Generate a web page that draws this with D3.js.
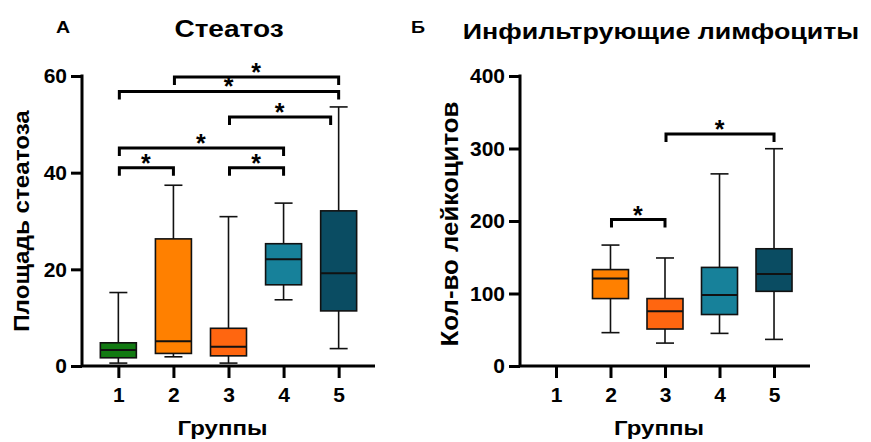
<!DOCTYPE html>
<html>
<head>
<meta charset="utf-8">
<script src="https://cdn.jsdelivr.net/npm/d3@7"></script>
<style>
  body { margin: 0; background: #fff; }
  text { font-family: "Liberation Sans", Arial, sans-serif; font-weight: bold; fill: #000; }
</style>
</head>
<body>
<div id="vis"></div>
<script>
// группы и цвета
var groups = ["1", "2", "3", "4", "5"]
var groupColors = ["#127a12", "#ff8000", "#ff6610", "#17819a", "#0a4c62"]

// А - стеатоз (min, Q1, median, Q3, max)
var steatMin = [0.6, 1.9, 0.6, 13.7, 3.6]
var steatQ1 = [1.7, 2.6, 2.1, 16.8, 11.4]
var steatMed = [3.3, 5.1, 4.0, 22.1, 19.2]
var steatQ3 = [4.8, 26.3, 7.8, 25.3, 32.1]
var steatMax = [15.2, 37.4, 30.9, 33.7, 53.6]
var steatTicks = [0, 20, 40, 60]
// [from, to, level]
var steatSig = [["2", "5", 59.8], ["1", "5", 56.8], ["3", "5", 51.5], ["1", "4", 45.1], ["1", "2", 41.0], ["3", "4", 41.0]]

// Б - лейкоциты (группа 1 без данных)
var leukMin = [null, 46, 31.6, 45, 36.7]
var leukQ1 = [null, 93, 51, 71, 103]
var leukMed = [null, 120.7, 75.4, 98, 127]
var leukQ3 = [null, 133, 93, 136, 161.7]
var leukMax = [null, 166.8, 149, 265, 299.7]
var leukTicks = [0, 100, 200, 300, 400]
var leukSig = [["2", "3", 202], ["3", "5", 320]]

var svg = d3.select("#vis").append("svg")
    .attr("width", 871)
    .attr("height", 442)

// текст, растянутый по горизонтали (как на исходной картинке)
function stretchText(g, x, y, txt, size, sx, rot) {
    var tr = "translate(" + x + "," + y + ")" + (rot ? " rotate(" + rot + ")" : "") + " scale(" + sx + ",1)"
    return g.append("text")
        .attr("transform", tr)
        .attr("text-anchor", "middle")
        .attr("font-size", size)
        .text(txt)
}

function drawPanel(opt) {
    var g = svg.append("g")

    var x = d3.scalePoint()
        .domain(groups)
        .range([opt.left, opt.right])
        .padding(0.66)

    var y = d3.scaleLinear()
        .domain([0, opt.yMax])
        .range([366, 76])

    // оси
    var yAxis = g.append("g")
        .attr("transform", "translate(" + opt.left + ",0)")
        .call(d3.axisLeft(y).tickValues(opt.ticks).tickSize(11).tickPadding(4))
    yAxis.select(".domain").remove()
    yAxis.selectAll("line").attr("stroke", "#000").attr("stroke-width", 3)
    yAxis.selectAll("text").attr("font-size", 21)
    g.append("line")
        .attr("x1", opt.left).attr("x2", opt.left)
        .attr("y1", y(opt.yMax) - 1.5).attr("y2", y(0))
        .attr("stroke", "#000").attr("stroke-width", 3)

    var xAxis = g.append("g")
        .attr("transform", "translate(0," + y(0) + ")")
        .call(d3.axisBottom(x).tickSize(12).tickPadding(9))
    xAxis.select(".domain").remove()
    xAxis.selectAll("line").attr("stroke", "#000").attr("stroke-width", 3)
    xAxis.selectAll("text").attr("font-size", 21)
    g.append("line")
        .attr("x1", opt.left).attr("x2", opt.right)
        .attr("y1", y(0)).attr("y2", y(0))
        .attr("stroke", "#000").attr("stroke-width", 3)

    // боксы
    var rows = groups.map(function(d, i) {
        return { grp: d, col: groupColors[i], min: opt.min[i], q1: opt.q1[i], med: opt.med[i], q3: opt.q3[i], max: opt.max[i] }
    }).filter(function(d) { return d.min != null })

    var bw = 36
    var box = g.append("g").selectAll("g").data(rows).enter().append("g")

    box.append("line")
        .attr("x1", function(d) { return x(d.grp) }).attr("x2", function(d) { return x(d.grp) })
        .attr("y1", function(d) { return y(d.max) }).attr("y2", function(d) { return y(d.min) })
        .attr("stroke", "#111").attr("stroke-width", 1.6)
    box.selectAll(".cap")
        .data(function(d) { return [d.min, d.max].map(function(v) { return { grp: d.grp, v: v } }) })
        .enter().append("line")
        .attr("class", "cap")
        .attr("x1", function(d) { return x(d.grp) - 9 }).attr("x2", function(d) { return x(d.grp) + 9 })
        .attr("y1", function(d) { return y(d.v) }).attr("y2", function(d) { return y(d.v) })
        .attr("stroke", "#111").attr("stroke-width", 1.6)
    box.append("rect")
        .attr("x", function(d) { return x(d.grp) - bw / 2 })
        .attr("width", bw)
        .attr("y", function(d) { return y(d.q3) })
        .attr("height", function(d) { return y(d.q1) - y(d.q3) })
        .attr("fill", function(d) { return d.col })
        .attr("stroke", "#111").attr("stroke-width", 1.6)
    box.append("line")
        .attr("x1", function(d) { return x(d.grp) - bw / 2 }).attr("x2", function(d) { return x(d.grp) + bw / 2 })
        .attr("y1", function(d) { return y(d.med) }).attr("y2", function(d) { return y(d.med) })
        .attr("stroke", "#111").attr("stroke-width", 2)

    // значимость
    var sig = g.append("g").selectAll("g").data(opt.sig).enter().append("g")
    sig.append("path")
        .attr("d", function(d) {
            var x1 = x(d[0]) + 1, x2 = x(d[1]) + (d[3] || 0), yy = y(d[2])
            return "M" + x1 + "," + (yy + 8) + "V" + yy + "H" + x2 + "V" + (yy + 8)
        })
        .attr("fill", "none").attr("stroke", "#000").attr("stroke-width", 3)
    sig.append("text")
        .attr("x", function(d) { return (x(d[0]) + x(d[1]) + (d[3] || 0)) / 2 })
        .attr("y", function(d) { return y(d[2]) + 4 })
        .attr("text-anchor", "middle")
        .attr("font-size", 25)
        .text("*")

    // подписи
    stretchText(g, opt.titleX, opt.titleY, opt.title, opt.titleSize, 1.22)
    stretchText(g, opt.letterX, 33, opt.letter, 17, 1.15)
    stretchText(g, (opt.left + opt.right) / 2 - 6, 435, "Группы", 20, 1.2)
    stretchText(g, opt.yLabelX, opt.yLabelY, opt.yLabel, opt.yLabelSize, 1.1, -90)
}

drawPanel({
    left: 82, right: 375, yMax: 60, ticks: steatTicks,
    min: steatMin, q1: steatQ1, med: steatMed, q3: steatQ3, max: steatMax,
    sig: steatSig.map(function(d) { return d[0] == "3" && d[1] == "5" ? d.concat([-8]) : d }),
    title: "Стеатоз", titleX: 229, titleY: 37, titleSize: 23, letter: "А", letterX: 63,
    yLabel: "Площадь стеатоза", yLabelX: 29, yLabelY: 221, yLabelSize: 22
})

drawPanel({
    left: 520, right: 810, yMax: 400, ticks: leukTicks,
    min: leukMin, q1: leukQ1, med: leukMed, q3: leukQ3, max: leukMax,
    sig: leukSig,
    title: "Инфильтрующие лимфоциты", titleX: 661, titleY: 39, titleSize: 22, letter: "Б", letterX: 418,
    yLabel: "Кол-во лейкоцитов", yLabelX: 458, yLabelY: 224, yLabelSize: 23.5
})
</script>
</body>
</html>
